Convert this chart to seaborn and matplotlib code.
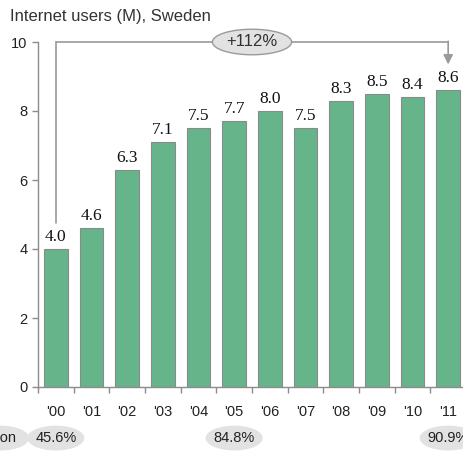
"""Internet users in Sweden, 2000-2011, bar chart with growth bracket."""

import matplotlib
import matplotlib.pyplot as plt
import numpy as np
import pandas as pd
import seaborn as sns
from matplotlib.patches import Ellipse

matplotlib.use("Agg")

years = ["'00", "'01", "'02", "'03", "'04", "'05", "'06", "'07", "'08", "'09", "'10", "'11"]
users = [4.0, 4.6, 6.3, 7.1, 7.5, 7.7, 8.0, 7.5, 8.3, 8.5, 8.4, 8.6]
penetration_idx = [0, 5, 11]
penetration = ["45.6%", "84.8%", "90.9%"]
growth_label = "+112%"

df = pd.DataFrame({"year": years, "users": users})

sns.set_style("white")
plt.rcParams["font.family"] = ["Liberation Sans", "DejaVu Sans"]

fig = plt.figure(figsize=(4.64, 4.53), dpi=100)
ax = fig.add_axes([38 / 464, 66 / 453, 428 / 464, 345 / 453])

sns.barplot(data=df, x="year", y="users", color="#66b58a", saturation=1,
            width=0.66, edgecolor="#8a8a8a", linewidth=0.8, ax=ax)

ax.set_xlim(-0.5, 11.5)
ax.set_ylim(0, 10)
ax.set_yticks(range(0, 11, 2))
ax.set_xticks(np.arange(-0.5, 12, 1.0), minor=True)
ax.set_xlabel("")
ax.set_ylabel("")
for side in ["top", "right"]:
    ax.spines[side].set_visible(False)
for side in ["left", "bottom"]:
    ax.spines[side].set_color("#8c8c8c")
    ax.spines[side].set_linewidth(1.0)
ax.tick_params(axis="both", length=4, width=1.0, color="#8c8c8c", labelsize=10.5,
               labelcolor="#222222", left=True, bottom=True)
ax.tick_params(axis="x", which="major", length=0, pad=13)
ax.tick_params(axis="x", which="minor", length=4, width=1.0, color="#8c8c8c", bottom=True)

# value labels
for i, v in enumerate(users):
    ax.text(i, v + 0.12, f"{v:.1f}", ha="center", va="bottom",
            fontsize=12.5, family=["Liberation Serif", "DejaVu Serif"], color="#111111")

# growth bracket
line_kw = dict(color="#9a9a9a", lw=1.2, clip_on=False)
ax.plot([0, 0], [4.75, 10], **line_kw)
ax.plot([0, 11], [10, 10], **line_kw)
ax.annotate("", xy=(11, 9.35), xytext=(11, 10.02),
            arrowprops=dict(arrowstyle="-|>", color="#9a9a9a", lw=1.2,
                            mutation_scale=14, shrinkA=0, shrinkB=0),
            annotation_clip=False)
ax.add_patch(Ellipse((5.5, 10.0), 2.22, 0.74, facecolor="#e2e2e2",
                     edgecolor="#9a9a9a", lw=1.0, clip_on=False, zorder=5))
ax.text(5.5, 10.0, growth_label, ha="center", va="center", fontsize=12,
        color="#333333", zorder=6)

# penetration row
for i, lab in zip(penetration_idx, penetration):
    ax.add_patch(Ellipse((i, -1.48), 1.6, 0.72, facecolor="#e2e2e2",
                         edgecolor="none", clip_on=False, zorder=5))
    ax.text(i, -1.48, lab, ha="center", va="center", fontsize=10.5,
            color="#222222", zorder=6)
ax.add_patch(Ellipse((-1.55, -1.48), 1.6, 0.72, facecolor="#e2e2e2",
                     edgecolor="none", clip_on=False, zorder=5))
ax.text(-1.1, -1.48, "Penetration", ha="right", va="center", fontsize=10.5,
        color="#222222", zorder=6)

fig.text(10 / 464, 1 - 17 / 453, "Internet users (M), Sweden", ha="left",
         va="center", fontsize=12, color="#333333")

fig.savefig("out.png", dpi=100)
